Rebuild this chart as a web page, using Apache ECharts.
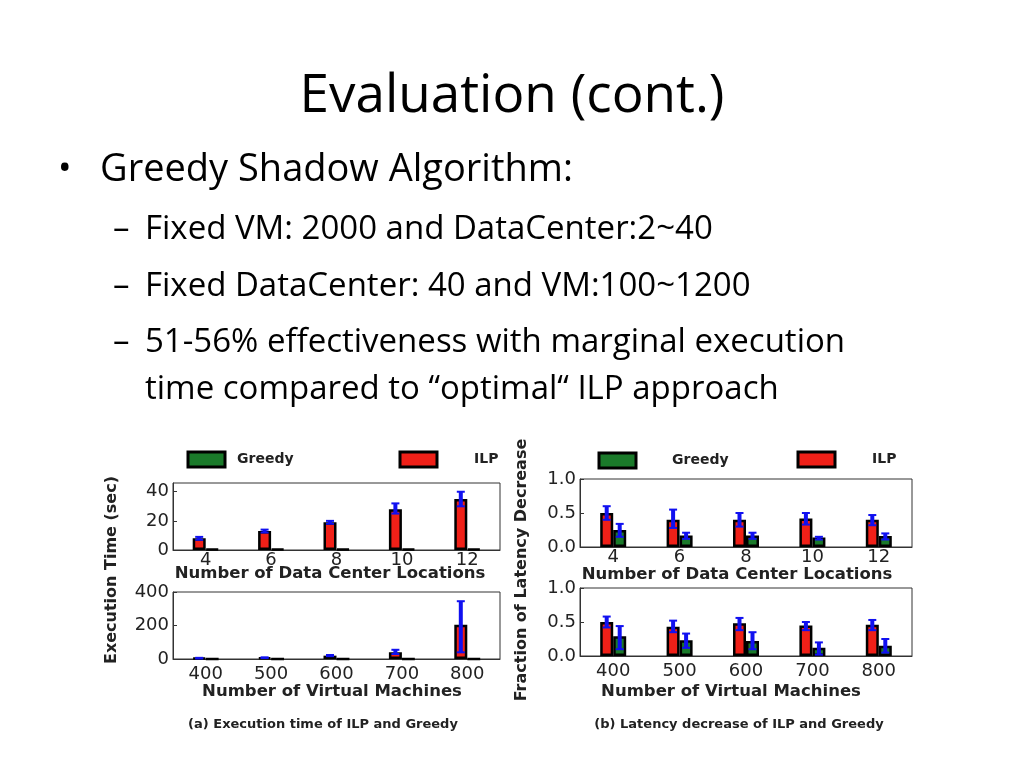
<!DOCTYPE html>
<html><head><meta charset="utf-8">
<script src="https://cdn.jsdelivr.net/npm/echarts@6/dist/echarts.min.js"></script>
<style>html,body{margin:0;background:#fff}#c{width:1024px;height:768px}</style></head>
<body><div id="c"></div>
<script>
const dcCats = ['4','6','8','10','12'];
const vmCats = ['400','500','600','700','800'];
const aTopILP = [8,13,19,28,35];
const aTopGreedy = [0.6,0.6,0.6,0.6,0.6];
const aTopILPErr = [[7,9],[12,14],[18,20],[25,32],[30,40]];
const aBotILP = [5,8,20,40,205];
const aBotGreedy = [1,1,1,1,1];
const aBotILPErr = [[3,7],[6,10],[17,24],[30,55],[40,345]];
const bTopILP = [0.5,0.4,0.4,0.42,0.4];
const bTopGreedy = [0.25,0.17,0.17,0.14,0.16];
const bTopILPErr = [[0.4,0.6],[0.28,0.55],[0.3,0.5],[0.33,0.5],[0.32,0.47]];
const bTopGreedyErr = [[0.15,0.34],[0.12,0.21],[0.12,0.21],[0.11,0.15],[0.11,0.2]];
const bBotILP = [0.5,0.43,0.48,0.45,0.46];
const bBotGreedy = [0.29,0.23,0.22,0.12,0.15];
const bBotILPErr = [[0.42,0.58],[0.35,0.52],[0.38,0.56],[0.38,0.5],[0.38,0.53]];
const bBotGreedyErr = [[0.1,0.44],[0.12,0.33],[0.1,0.35],[0.02,0.2],[0.05,0.25]];

const grids = [
 {left:173,top:483,width:327,height:67},
 {left:173,top:592,width:327,height:67},
 {left:580,top:479,width:332,height:68},
 {left:580,top:588,width:332,height:68}
];
const lab = {fontSize:18,color:'#222',fontFamily:'DejaVu Sans'};
const xAxes = [dcCats,vmCats,dcCats,vmCats].map((c,i)=>({type:'category',gridIndex:i,data:c,
  axisLine:{lineStyle:{color:'#333'}},axisTick:{show:false},axisLabel:{...lab,margin:i%2?6:1}}));
const yMax=[46,400,1,1], yInt=[20,200,0.5,0.5];
const yAxes = [0,1,2,3].map(i=>({type:'value',gridIndex:i,min:0,max:yMax[i],interval:yInt[i],
  splitLine:{show:false},axisLine:{show:true,lineStyle:{color:'#333'}},axisTick:{show:true,inside:true,length:4},
  axisLabel:{...lab,margin:4,formatter:v=>i>=2?v.toFixed(1):v}}));
function bars(i,ilp,gr){
  return [
   {type:'bar',xAxisIndex:i,yAxisIndex:i,data:ilp,barWidth:13,barGap:'0%',itemStyle:{color:'#f02018',borderColor:'#000',borderWidth:2.5}},
   {type:'bar',xAxisIndex:i,yAxisIndex:i,data:gr,barWidth:13,barGap:'0%',itemStyle:{color:'#1a7a2a',borderColor:'#000',borderWidth:2.5}}
  ];
}
function err(i,arr,off){
  return {type:'custom',xAxisIndex:i,yAxisIndex:i,data:arr.map((e,k)=>[k,e[0],e[1]]),z:5,
   renderItem:(p,api)=>{
     const a=api.coord([api.value(0),api.value(1)]), b=api.coord([api.value(0),api.value(2)]);
     const x=a[0]+off;
     return {type:'group',children:[
       {type:'line',shape:{x1:x,y1:a[1],x2:x,y2:b[1]},style:{stroke:'#1010f0',lineWidth:4}},
       {type:'line',shape:{x1:x-4,y1:a[1],x2:x+4,y2:a[1]},style:{stroke:'#1010f0',lineWidth:2}},
       {type:'line',shape:{x1:x-4,y1:b[1],x2:x+4,y2:b[1]},style:{stroke:'#1010f0',lineWidth:2}}]};
   }};
}
const series=[...bars(0,aTopILP,aTopGreedy),...bars(1,aBotILP,aBotGreedy),...bars(2,bTopILP,bTopGreedy),...bars(3,bBotILP,bBotGreedy),
  err(0,aTopILPErr,-6.5),err(1,aBotILPErr,-6.5),err(2,bTopILPErr,-6.5),err(2,bTopGreedyErr,6.5),err(3,bBotILPErr,-6.5),err(3,bBotGreedyErr,6.5)];
const F='"Open Sans"';
const T=(x,y,t,s,o)=>({type:'text',x,y,style:Object.assign({text:t,fontSize:s,fontFamily:F,fill:'#000'},o||{})});
const B=(x,y,t,s,o)=>T(x,y,t,s,Object.assign({fontFamily:'DejaVu Sans',fontWeight:'bold',fill:'#222'},o||{}));
const R=(x,y,c)=>({type:'rect',shape:{x,y,width:37,height:15},style:{fill:c,stroke:'#000',lineWidth:3}});
const V={textVerticalAlign:'middle'};
const graphic=[
 T(512,97,'Evaluation (cont.)',53,{textAlign:'center',textVerticalAlign:'middle'}),
 T(58,170,'•',36,V),
 T(100,170,'Greedy Shadow Algorithm:',38,V),
 T(113,230,'–',33,V),T(145,230,'Fixed VM: 2000 and DataCenter:2~40',33,V),
 T(113,287,'–',33,V),T(145,287,'Fixed DataCenter: 40 and VM:100~1200',33,V),
 T(113,343,'–',33,V),T(145,343,'51-56% effectiveness with marginal execution',33,V),
 T(145,390,'time compared to “optimal“ ILP approach',33,V),
 R(188,452,'#1a7a2a'),B(237,459,'Greedy',14,V),
 R(400,452,'#f02018'),B(474,459,'ILP',14,V),
 R(599,453,'#1a7a2a'),B(672,460,'Greedy',14,V),
 R(798,452,'#f02018'),B(872,459,'ILP',14,V),
 B(330,574,'Number of Data Center Locations',16.5,{textAlign:'center',textVerticalAlign:'middle'}),
 B(332,692,'Number of Virtual Machines',16.5,{textAlign:'center',textVerticalAlign:'middle'}),
 B(737,575,'Number of Data Center Locations',16.5,{textAlign:'center',textVerticalAlign:'middle'}),
 B(731,692,'Number of Virtual Machines',16.5,{textAlign:'center',textVerticalAlign:'middle'}),
 {type:'text',x:112,y:570,rotation:Math.PI/2,style:{text:'Execution Time (sec)',fontSize:16,fontFamily:'DejaVu Sans',fontWeight:'bold',fill:'#222',textAlign:'center',textVerticalAlign:'middle'}},
 {type:'text',x:522,y:570,rotation:Math.PI/2,style:{text:'Fraction of Latency Decrease',fontSize:16,fontFamily:'DejaVu Sans',fontWeight:'bold',fill:'#222',textAlign:'center',textVerticalAlign:'middle'}},
 B(323,725,'(a) Execution time of ILP and Greedy',13,{textAlign:'center',textVerticalAlign:'middle'}),
 B(739,725,'(b) Latency decrease of ILP and Greedy',13,{textAlign:'center',textVerticalAlign:'middle'})
];
const ch=echarts.init(document.getElementById('c'));
ch.setOption({animation:false,grid:grids.map(g=>Object.assign({show:true,borderColor:'#333',borderWidth:1},g)),xAxis:xAxes,yAxis:yAxes,series,graphic});
</script></body></html>
